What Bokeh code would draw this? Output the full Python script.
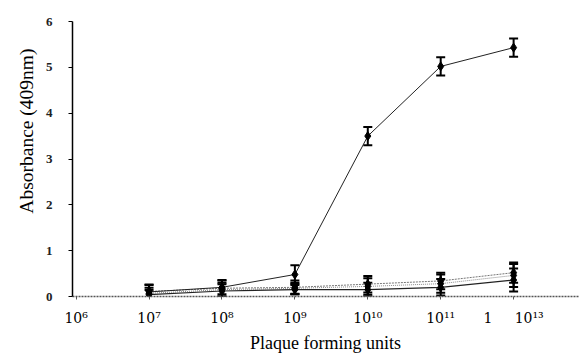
import math
from bokeh.plotting import figure
from bokeh.models import (Range1d, FixedTicker, CustomJSTickFormatter, Whisker,
                          TeeHead, ColumnDataSource, Title)
from bokeh.embed import file_html
from bokeh.resources import INLINE

# ---- data ----
pfu = [1e7, 1e8, 1e9, 1e10, 1e11, 1e12]
tick_values = [1e6, 1e7, 1e8, 1e9, 1e10, 1e11, 1e12]
tick_labels = ["10⁶", "10⁷", "10⁸", "10⁹", "10¹⁰", "10¹¹", "1\u00a0\u00a0\u00a0\u00a0\u00a010¹³"]

series_a = [0.10, 0.20, 0.48, 3.50, 5.02, 5.43]
err_a = [0.15, 0.15, 0.20, 0.20, 0.20, 0.20]
series_b = [0.04, 0.12, 0.15, 0.15, 0.20, 0.36]
err_b = [0.10, 0.15, 0.10, 0.15, 0.18, 0.25]
series_c = [0.07, 0.15, 0.18, 0.22, 0.28, 0.46]
err_c = [0.12, 0.15, 0.12, 0.18, 0.20, 0.25]
series_d = [0.11, 0.18, 0.20, 0.27, 0.34, 0.52]
err_d = [0.15, 0.18, 0.15, 0.18, 0.18, 0.22]

SERIF = "Liberation Serif"

p = figure(width=580, height=355, x_axis_type="log",
           x_range=Range1d(10**5.95, 10**12.89), y_range=Range1d(0, 6.0),
           output_backend="svg", toolbar_location=None,
           min_border_left=72, min_border_right=2, min_border_top=21,
           min_border_bottom=59)
p.outline_line_color = None
p.grid.visible = False
p.background_fill_color = "white"

series = [
    (series_d, err_d, "#777777", "2 1", 1.0),
    (series_c, err_c, "#888888", "1 1", 1.0),
    (series_b, err_b, "#222222", "solid", 1.2),
    (series_a, err_a, "#222222", "solid", 1.0),
]
for vals, errs, col, dash, lw in series:
    src = ColumnDataSource(dict(x=pfu, y=vals,
                                lo=[v - e for v, e in zip(vals, errs)],
                                hi=[v + e for v, e in zip(vals, errs)]))
    p.line("x", "y", source=src, line_color=col, line_dash=dash, line_width=lw)
    w = Whisker(source=src, base="x", lower="lo", upper="hi", dimension="height",
                line_color="black", line_width=2,
                lower_head=TeeHead(size=9, line_width=2, line_color="black"),
                upper_head=TeeHead(size=9, line_width=2, line_color="black"))
    p.add_layout(w)
    p.scatter("x", "y", source=src, marker="diamond", size=9,
              fill_color="black", line_color="black")

# axes
xa = p.xaxis[0]
xa.ticker = FixedTicker(ticks=tick_values, minor_ticks=[])
xa.formatter = CustomJSTickFormatter(args=dict(vals=tick_values, labs=tick_labels), code="""
for (let i = 0; i < vals.length; i++) {
  if (Math.abs(Math.log10(tick) - Math.log10(vals[i])) < 1e-6) return labs[i];
}
return '';
""")
xa.axis_line_color = "#555555"
xa.axis_line_dash = "2 1"
xa.axis_line_width = 1.5
xa.major_tick_in = 0
xa.major_tick_out = 3
xa.major_tick_line_color = "#555555"
xa.minor_tick_line_color = None
xa.major_label_text_font = "DejaVu Serif"
xa.major_label_text_font_size = "14px"
xa.major_label_text_color = "black"
xa.major_label_standoff = 10
xa.axis_label = "Plaque forming units"
xa.axis_label_text_font = SERIF
xa.axis_label_text_font_size = "18px"
xa.axis_label_text_font_style = "normal"
xa.axis_label_text_color = "black"
xa.axis_label_standoff = 4

ya = p.yaxis[0]
ya.ticker = FixedTicker(ticks=[0, 1, 2, 3, 4, 5, 6], minor_ticks=[])
ya.axis_line_color = "black"
ya.axis_line_width = 1.5
ya.major_tick_in = 0
ya.major_tick_out = 4
ya.major_tick_line_color = "black"
ya.minor_tick_line_color = None
ya.major_label_text_font = SERIF
ya.major_label_text_font_size = "13px"
ya.major_label_text_font_style = "bold"
ya.major_label_text_color = "#222222"
ya.major_label_standoff = 16

ytitle = Title(text="Absorbance (409nm)", align="right", offset=27,
               text_font=SERIF, text_font_size="19.5px", text_font_style="normal",
               text_color="black", standoff=12)
p.add_layout(ytitle, "left")

open("out.html", "w").write(file_html(p, INLINE))
